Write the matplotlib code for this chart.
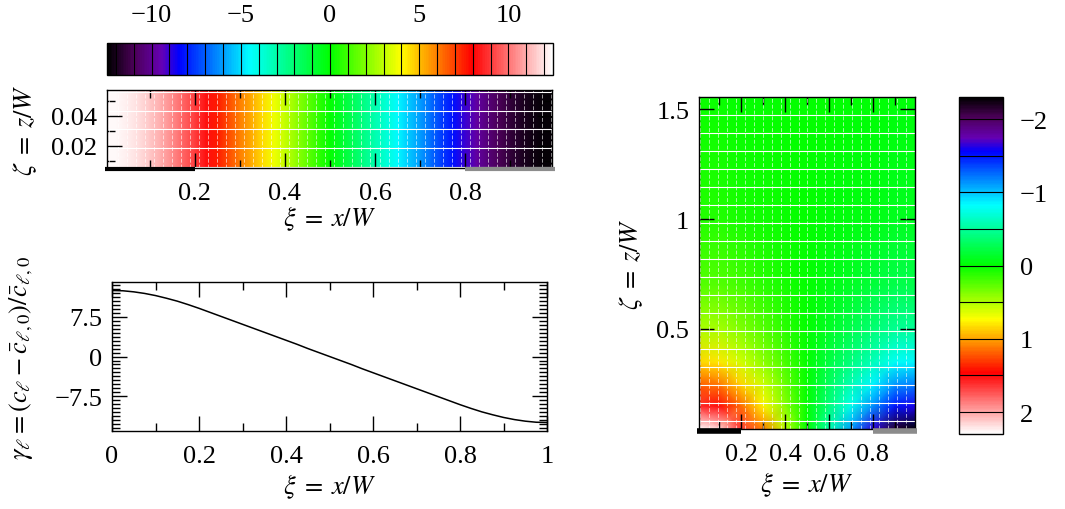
import numpy as np
import matplotlib
matplotlib.use('Agg')
import matplotlib.pyplot as plt
from matplotlib.colors import LinearSegmentedColormap, Normalize
from matplotlib.cm import ScalarMappable
from matplotlib.ticker import MultipleLocator, FuncFormatter
from matplotlib.transforms import offset_copy

plt.rcParams['font.family'] = ['Liberation Serif', 'DejaVu Serif']
plt.rcParams['mathtext.fontset'] = 'stix'
plt.rcParams['font.size'] = 19

# surface profile gamma(xi)
xi = [0.0, 0.025, 0.05, 0.075, 0.1, 0.125, 0.15, 0.175, 0.2, 0.225, 0.25,
      0.275, 0.3, 0.325, 0.35, 0.375, 0.4, 0.425, 0.45, 0.475, 0.5,
      0.525, 0.55, 0.575, 0.6, 0.625, 0.65, 0.675, 0.7, 0.725, 0.75,
      0.775, 0.8, 0.825, 0.85, 0.875, 0.9, 0.925, 0.95, 0.975, 1.0]
gamma = [12.4, 12.35, 12.15, 11.85, 11.45, 10.95, 10.4, 9.75, 9.05, 8.3, 7.55,
         6.8, 6.05, 5.3, 4.55, 3.8, 3.05, 2.3, 1.5, 0.75, 0.0,
         -0.75, -1.5, -2.3, -3.05, -3.8, -4.55, -5.3, -6.05, -6.8, -7.55,
         -8.3, -9.05, -9.75, -10.4, -10.95, -11.45, -11.85, -12.15, -12.35, -12.4]

# thin strip next to the electrodes (zeta range of the upper panel)
zeta_strip = [0.005, 0.058]

# 2D field in the right panel
xi_2d = [0.0, 0.1, 0.2, 0.3, 0.4, 0.5, 0.6, 0.7, 0.8, 0.9, 1.0]
zeta_2d = [0.045, 0.15, 0.25, 0.35, 0.5, 0.7, 1.0, 1.555]
field = [
    [2.30, 2.15, 1.65, 1.10, 0.55, 0.0, -0.55, -1.10, -1.65, -2.15, -2.30],
    [1.60, 1.50, 1.15, 0.77, 0.38, 0.0, -0.38, -0.77, -1.15, -1.50, -1.60],
    [1.20, 1.13, 0.86, 0.58, 0.29, 0.0, -0.29, -0.58, -0.86, -1.13, -1.20],
    [0.85, 0.80, 0.61, 0.41, 0.20, 0.0, -0.20, -0.41, -0.61, -0.80, -0.85],
    [0.50, 0.47, 0.36, 0.24, 0.12, 0.0, -0.12, -0.24, -0.36, -0.47, -0.50],
    [0.25, 0.24, 0.18, 0.12, 0.06, 0.0, -0.06, -0.12, -0.18, -0.24, -0.25],
    [0.10, 0.09, 0.07, 0.05, 0.02, 0.0, -0.02, -0.05, -0.07, -0.09, -0.10],
    [0.02, 0.02, 0.01, 0.01, 0.00, 0.0, 0.00, -0.01, -0.01, -0.02, -0.02],
]

electrodes = [(0.0, 0.2, 'black'), (0.8, 1.0, '#8c8c8c')]

# palette: black - purple - blue - cyan - green - yellow - red - white
cmap = LinearSegmentedColormap.from_list('pal', [
    (0.00, (0.0, 0.0, 0.0)),
    (0.06, (0.30, 0.0, 0.35)),
    (0.12, (0.40, 0.0, 0.70)),
    (0.16, (0.0, 0.0, 1.0)),
    (0.32, (0.0, 1.0, 1.0)),
    (0.50, (0.0, 1.0, 0.0)),
    (0.66, (1.0, 1.0, 0.0)),
    (0.82, (1.0, 0.0, 0.0)),
    (1.00, (1.0, 1.0, 1.0)),
])


def _fmt(v, p):
    if abs(v) < 1e-9:
        return '0'
    return ('%g' % v).replace('-', '\u2212')


fmt = FuncFormatter(_fmt)
xlab = r'$\xi\;=\;x/W$'
zlab = r'$\zeta\;=\;z/W$'


def style(ax):
    ax.tick_params(which='both', direction='in', top=True, right=True, width=1)
    ax.tick_params(axis='x', pad=10)
    ax.tick_params(axis='y', pad=7)
    ax.tick_params(which='major', length=11)
    ax.tick_params(which='minor', length=5.5)
    for s in ax.spines.values():
        s.set_linewidth(1)


def texture(ax, hs, vs):
    # white seams of the rendered surface
    ax.hlines(hs, 0, 1, transform=ax.get_yaxis_transform(), colors='white', lw=0.8)
    ax.vlines(vs, 0, 1, transform=ax.get_xaxis_transform(), colors='white',
              lw=0.7, alpha=0.6, linestyles=(0, (4, 2)))


def draw_electrodes(ax, lw):
    tr = offset_copy(ax.get_xaxis_transform(), fig=fig, y=-lw / 2 + 0.5, units='points')
    for a, b, c in electrodes:
        ax.plot([a, b], [0, 0], color=c, lw=lw, solid_capstyle='butt',
                clip_on=False, transform=tr, zorder=5)


fig = plt.figure(figsize=(10.65, 5.1), dpi=100)

# top colour bar
norm1 = Normalize(-12.5, 12.5)
cax1 = fig.add_axes([0.1005, 0.851, 0.4188, 0.0627])
cb1 = fig.colorbar(ScalarMappable(norm1, cmap), cax=cax1, orientation='horizontal')
cb1.set_ticks([-10, -5, 0, 5, 10])
cax1.xaxis.set_ticks_position('top')
cax1.tick_params(length=0, pad=12)
for v in range(-12, 13):
    cax1.axvline(v, color='black', lw=0.8)
cb1.outline.set_linewidth(1)

# strip
ax1 = fig.add_axes([0.1005, 0.6686, 0.4178, 0.1535])
ax1.pcolormesh(xi, zeta_strip, [gamma, gamma], shading='gouraud', cmap=cmap, norm=norm1)
texture(ax1, np.arange(0.006, 0.058, 0.0125), np.arange(0.01, 1.0, 0.02))
ax1.set_xlim(0.005, 0.993)
ax1.set_ylim(0.0053, 0.0573)
ax1.xaxis.set_major_locator(MultipleLocator(0.2))
ax1.xaxis.set_minor_locator(MultipleLocator(0.1))
ax1.yaxis.set_major_locator(MultipleLocator(0.02))
ax1.yaxis.set_minor_locator(MultipleLocator(0.01))
ax1.xaxis.set_major_formatter(fmt)
ax1.yaxis.set_major_formatter(fmt)
style(ax1)
draw_electrodes(ax1, 3)
ax1.set_xlabel(xlab, labelpad=0)
ax1.set_ylabel(zlab, labelpad=9)

# profile
ax2 = fig.add_axes([0.1052, 0.1529, 0.4085, 0.2922])
ax2.plot(xi, gamma, color='black', lw=1.1)
ax2.set_xlim(0, 1)
ax2.set_ylim(-14, 14)
ax2.xaxis.set_major_locator(MultipleLocator(0.2))
ax2.xaxis.set_minor_locator(MultipleLocator(0.1))
ax2.yaxis.set_major_locator(MultipleLocator(7.5))
ax2.yaxis.set_minor_locator(MultipleLocator(0.75))
ax2.xaxis.set_major_formatter(fmt)
ax2.yaxis.set_major_formatter(fmt)
style(ax2)
ax2.set_xlabel(xlab, labelpad=3)
ax2.set_ylabel(r'$\gamma_\ell = (c_\ell - \bar{c}_{\ell,0})/\bar{c}_{\ell,0}$', labelpad=14)

# 2D field
norm2 = Normalize(-2.3, 2.3)
ax3 = fig.add_axes([0.6563, 0.1569, 0.2028, 0.651])
ax3.pcolormesh(xi_2d, zeta_2d, field, shading='gouraud', cmap=cmap, norm=norm2)
texture(ax3, np.arange(0.0016, 1.56, 0.0818), np.arange(0.01, 1.0, 0.041))
ax3.set_xlim(0.007, 0.992)
ax3.set_ylim(0.045, 1.555)
ax3.xaxis.set_major_locator(MultipleLocator(0.2))
ax3.xaxis.set_minor_locator(MultipleLocator(0.1))
ax3.yaxis.set_major_locator(MultipleLocator(0.5))
ax3.xaxis.set_major_formatter(fmt)
ax3.yaxis.set_major_formatter(fmt)
style(ax3)
draw_electrodes(ax3, 4)
ax3.set_xlabel(xlab, labelpad=3)
ax3.set_ylabel(zlab, labelpad=8)

# right colour bar
cax2 = fig.add_axes([0.9005, 0.147, 0.0413, 0.6608])
cb2 = fig.colorbar(ScalarMappable(norm2, cmap), cax=cax2)
cb2.set_ticks([-2, -1, 0, 1, 2])
cax2.invert_yaxis()
cax2.tick_params(length=0, pad=12)
for v in np.arange(-2, 2.01, 0.5):
    cax2.axhline(v, color='black', lw=0.8)
cb2.outline.set_linewidth(1)

fig.savefig('out.png', dpi=100)
